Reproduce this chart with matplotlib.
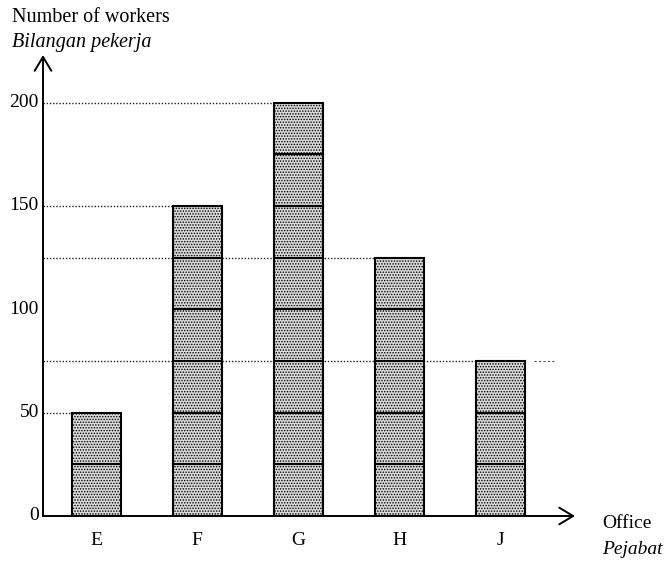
import matplotlib

matplotlib.use("Agg")
import matplotlib.pyplot as plt

offices = ["E", "F", "G", "H", "J"]
workers = [50, 150, 200, 125, 75]
unit = 25  # each block in a bar stands for 25 workers
y_ticks = [0, 50, 100, 150, 200]

plt.rcParams["font.family"] = ["Liberation Serif", "DejaVu Serif"]
plt.rcParams["hatch.color"] = "#4d4d4d"
plt.rcParams["hatch.linewidth"] = 0.7

fig = plt.figure(figsize=(6.7, 5.65), dpi=100)
ax = fig.add_axes([43 / 670, 49 / 565, 532 / 670, 461 / 565])
x0, x1 = -0.525, 4.74
ax.set_xlim(x0, x1)
ax.set_ylim(0, 223)
ax.axis("off")

xs = list(range(len(offices)))
width = 0.485

# dotted guide lines from the axis to the bar that reaches that level
for x, v in zip(xs, workers):
    ax.plot([x0, x - width / 2], [v, v], color="#222222", linestyle=(0, (1, 1.3)),
            linewidth=1.0, zorder=1)
ax.plot([4.33, 4.53], [75, 75], color="#555555", linestyle=(0, (2, 2)),
        linewidth=0.8, zorder=1)

# bars as stacks of blocks
for x, v in zip(xs, workers):
    bottom = 0
    while bottom < v:
        ax.bar(x, unit, width=width, bottom=bottom, facecolor="#dadada",
               edgecolor="black", linewidth=1.5, hatch="......", zorder=2)
        bottom += unit

# axes with open arrowheads
arrow = dict(arrowstyle="->,head_length=1.0,head_width=0.6", color="black",
             linewidth=1.4, shrinkA=0, shrinkB=0)
ax.annotate("", xy=(x0, 223), xytext=(x0, 0), arrowprops=arrow, annotation_clip=False)
ax.annotate("", xy=(x1, 0), xytext=(x0, 0), arrowprops=arrow, annotation_clip=False)

for t in y_ticks:
    ax.text(x0 - 0.04, t, str(t), ha="right", va="center", fontsize=14)
for x, lab in zip(xs, offices):
    ax.text(x, -12, lab, ha="center", va="center", fontsize=14)

fig.text(12 / 670, 1 - 17 / 565, "Number of workers", ha="left", va="center", fontsize=14.5)
fig.text(12 / 670, 1 - 42 / 565, "Bilangan pekerja", ha="left", va="center",
         fontsize=14.5, style="italic")
fig.text(602 / 670, 1 - 524 / 565, "Office", ha="left", va="center", fontsize=14)
fig.text(602 / 670, 1 - 549 / 565, "Pejabat", ha="left", va="center", fontsize=14,
         style="italic")

fig.savefig("out.png", dpi=100)
